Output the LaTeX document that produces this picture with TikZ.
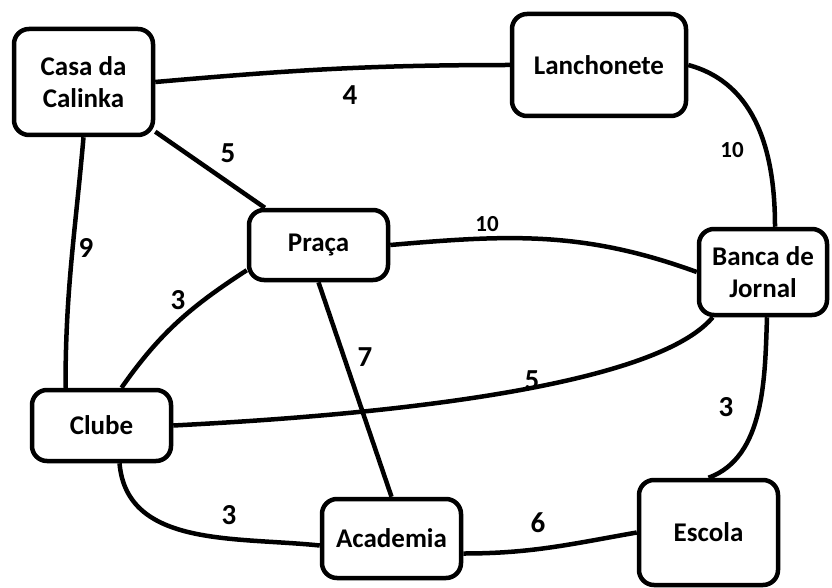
\documentclass[tikz,border=0pt]{standalone}
\usepackage{fontspec}
\setmainfont{Carlito}
\usetikzlibrary{positioning}
\tikzset{
	place/.style={
		rectangle,
		rounded corners=15pt,
		line width=4.5pt,
		draw=black,
		fill=white,
		align=center,
		font=\fontsize{27}{32}\selectfont\bfseries
	},
	road/.style={
		line width=4.5pt,
		draw=black
	},
	weight/.style={
		font=\fontsize{29}{32}\selectfont\bfseries,
		inner sep=0pt
	},
	smallweight/.style={
		font=\fontsize{23}{26}\selectfont\bfseries,
		inner sep=0pt
	},
}

\begin{document}
\begin{tikzpicture}[x=1pt,y=1pt]
\useasboundingbox (0,0) rectangle (832,-588);
% places
\node [place,minimum width=139pt,minimum height=106pt] (casa) at (83.5,-82) {Casa da\\Calinka};
\node [place,minimum width=174pt,minimum height=102pt] (lanch) at (599,-65) {Lanchonete};
\node [place,minimum width=128pt,minimum height=86pt] (banca) at (763,-272) {Banca de\\Jornal};
\node [place,minimum width=139pt,minimum height=70pt] (praca) at (318.5,-245) {Praça};
\node [place,minimum width=139pt,minimum height=71pt] (clube) at (101.5,-425.5) {Clube};
\node [place,minimum width=139pt,minimum height=79pt] (acad) at (391.5,-538.5) {Academia};
\node [place,minimum width=139pt,minimum height=105pt] (escola) at (708.5,-532.5) {Escola};

% weights
\node [weight] (w1) at (350,-95) {4};
\node [weight] (w2) at (228,-153) {5};
\node [weight] (w3) at (86,-248) {9};
\node [smallweight] (w4) at (732,-150) {10};
\node [smallweight] (w5) at (487,-224) {10};
\node [weight] (w6) at (178,-300) {3};
\node [weight] (w7) at (365,-357) {7};
\node [weight] (w8) at (532,-380) {5};
\node [weight] (w9) at (726,-407) {3};
\node [weight] (w10) at (229,-515) {3};
\node [weight] (w11) at (538,-523) {6};

\path[road]
(casa.east) edge[out=5,in=180] (lanch.west)
(casa) edge (praca)
(casa.south) edge[out=265,in=90] ([xshift=-36pt]clube.north)
(lanch.east) edge[out=-15,in=90] ([xshift=12pt]banca.north)
(praca.east) edge[out=5,in=160] (banca.west)
([yshift=12pt]praca.south west) edge[out=213,in=55] ([xshift=20pt]clube.north)
(praca.south) edge (acad.north)
(clube.east) edge[out=3,in=230,looseness=0.5] ([xshift=16pt]banca.south west)
([xshift=4pt]banca.south) edge[out=268,in=20,looseness=0.9] (escola.north)
([xshift=18pt]clube.south) edge[out=-85,in=174] ([yshift=-7pt]acad.west)
([yshift=-15pt]acad.east) edge[out=0,in=190] (escola.west)
;
\end{tikzpicture}
\end{document}
